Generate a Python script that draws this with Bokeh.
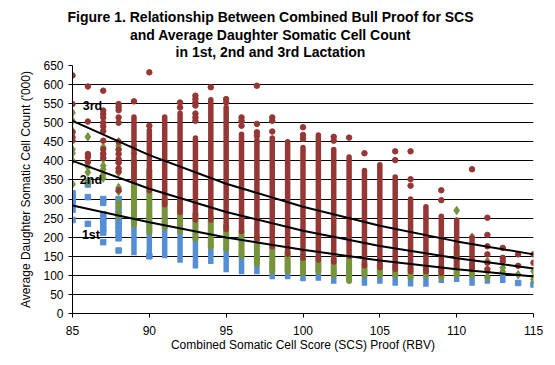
from bokeh.plotting import figure
from bokeh.models import Range1d, FixedTicker, Label
from bokeh.embed import file_html
from bokeh.resources import INLINE

# ---------------- data ----------------
title_lines = ["Figure 1. Relationship Between Combined Bull Proof for SCS",
               "and Average Daughter Somatic Cell Count",
               "in 1st, 2nd and 3rd Lactation"]
x_ticks = [85, 90, 95, 100, 105, 110, 115]
y_ticks = list(range(0, 651, 50))

# 1st lactation (blue squares): dense columns (x, low, high) + scattered points
blue_band_x = [89, 90, 91, 92, 93, 94, 95, 96, 97, 98, 99, 100, 101, 102, 103, 104,
               105, 106, 107, 108, 109, 110, 111, 112, 113]
blue_band_lo = [160, 158, 152, 140, 125, 137, 115, 110, 110, 97, 97, 92, 93, 85, 93, 80,
                85, 80, 78, 77, 87, 90, 80, 85, 87]
blue_band_hi = [265, 255, 250, 245, 195, 178, 165, 150, 145, 125, 130, 122, 125, 110, 125, 110,
                110, 100, 95, 108, 120, 115, 100, 92, 95]
blue_pts_x = [85, 85, 85, 85, 85, 85, 86, 86, 86, 86,
              87, 87, 87, 87, 87, 87, 87, 87, 87,
              88, 88, 88, 88, 88, 88, 88, 88, 88, 88, 88,
              90, 114, 115]
blue_pts_y = [315, 305, 297, 290, 272, 245, 345, 338, 305, 235,
              300, 290, 260, 250, 240, 230, 220, 212, 187,
              300, 285, 270, 262, 250, 240, 230, 220, 210, 197, 165,
              150, 80, 76]

# 2nd lactation (green diamonds)
green_band_x = [89, 90, 91, 92, 93, 94, 95, 96, 97, 98, 99, 100, 101, 102, 103, 104,
                105, 106, 107, 108, 109, 110, 111]
green_band_lo = [232, 212, 225, 215, 195, 175, 170, 150, 130, 110, 110, 105, 110, 100, 85, 100,
                 100, 100, 95, 100, 95, 100, 100]
green_band_hi = [400, 375, 300, 300, 260, 250, 230, 215, 200, 175, 160, 150, 145, 140, 150, 130,
                 130, 125, 120, 120, 120, 175, 130]
green_pts_x = [85, 85, 85, 85, 85, 85, 85, 86, 86, 86, 86, 86,
               87, 87, 87, 87, 87, 87, 87,
               88, 88, 88, 88, 88, 88, 88, 88, 88, 88, 88,
               89, 89, 108, 110, 111, 112, 112, 112, 113, 113, 114, 115, 115]
green_pts_y = [526, 505, 478, 430, 420, 401, 339, 463, 395, 385, 370, 345,
               436, 420, 405, 387, 378, 365, 355,
               450, 440, 430, 395, 370, 330, 320, 290, 280, 265, 255,
               440, 420, 250, 270, 200, 137, 110, 95, 120, 110, 102, 111, 89]

# 3rd lactation (dark red circles)
red_band_x = [89, 90, 91, 92, 93, 94, 95, 96, 97, 98, 99, 100, 101, 102, 103, 104,
              105, 106, 107, 108, 109, 110, 111]
red_band_lo = [345, 322, 285, 265, 245, 245, 220, 215, 195, 175, 155, 145, 140, 135, 150, 125,
               120, 115, 110, 110, 105, 122, 115]
red_band_hi = [515, 480, 515, 525, 460, 560, 540, 470, 455, 460, 450, 435, 468, 430, 410, 375,
               390, 358, 300, 280, 255, 245, 200]
red_pts_x = [85, 85, 85, 85, 85, 86, 86, 86, 86, 86,
             87, 87, 87, 87, 87, 87, 87, 87, 87, 87, 87,
             88, 88, 88, 88, 88, 88, 88, 88, 88, 88, 88, 88, 88,
             89, 90, 90, 92, 92, 93, 93, 93, 93, 93, 93, 93, 94, 95, 95,
             96, 96, 96, 97, 97, 97, 97, 98, 98, 98, 100, 100, 100, 102, 102, 103, 104,
             106, 106, 107, 107, 107, 109, 109, 111,
             112, 112, 112, 112, 112, 112, 113, 113, 113, 114, 114, 115, 115]
red_pts_y = [624, 549, 475, 462, 453, 595, 503, 418, 410, 398,
             584, 532, 523, 514, 500, 490, 478, 453, 430, 418, 408,
             549, 541, 533, 514, 500, 450, 430, 418, 405, 395, 380, 372, 323,
             556, 632, 492, 553, 540, 571, 562, 553, 545, 524, 514, 505, 593, 562, 553,
             514, 505, 492, 597, 497, 475, 466, 514, 505, 477, 488, 468, 458, 463, 453, 461, 420,
             425, 402, 425, 352, 335, 323, 297, 378,
             251, 206, 176, 155, 133, 116, 172, 146, 137, 155, 125, 155, 133]

# exponential trend lines, values read at every 5 units
trend_x = [85, 90, 95, 100, 105, 110, 115]
trend_3rd = [505, 415, 340, 280, 230, 189, 155]
trend_2nd = [400, 327, 266, 217, 177, 145, 118]
trend_1st = [283, 239, 199, 167, 139, 116, 97]

series_labels = ["3rd", "2nd", "1st"]
label_x = [86.3, 86.2, 86.2]
label_y = [543, 349, 207]

x_title = "Combined Somatic Cell Score (SCS) Proof (RBV)"
y_title = "Average Daughter Somatic Cell Count ('000)"

# ---------------- styling ----------------
FONT = "Liberation Sans"
BLUE = "#558ED5"
GREEN = "#77933C"
RED = "#953735"

p = figure(width=553, height=360, output_backend="svg", toolbar_location=None,
           x_range=Range1d(85, 115), y_range=Range1d(0, 650),
           title="\n".join(title_lines),
           min_border_left=72, min_border_right=20, min_border_top=65, min_border_bottom=47)
p.title.align = "left"
p.title.offset = -5
p.title.text_align = "center"
p.title.vertical_align = "top"
p.title.standoff = 7
p.title.text_line_height = 1.1
p.title.text_font = FONT
p.title.text_font_style = "bold"
p.title.text_font_size = "14px"
p.title.text_color = "black"
p.outline_line_color = None
p.background_fill_color = "white"
p.border_fill_color = "white"

# blue (1st)
p.segment(x0=blue_band_x, y0=blue_band_lo, x1=blue_band_x, y1=blue_band_hi,
          line_color=BLUE, line_width=5.5, line_cap="square")
p.scatter(blue_pts_x, blue_pts_y, marker="square", size=5.5, fill_color=BLUE, line_color=BLUE)
# green (2nd)
p.segment(x0=green_band_x, y0=green_band_lo, x1=green_band_x, y1=green_band_hi,
          line_color=GREEN, line_width=6, line_cap="round")
p.scatter(green_pts_x, green_pts_y, marker="diamond", size=8.5, fill_color=GREEN, line_color=GREEN)
# red (3rd)
p.segment(x0=red_band_x, y0=red_band_lo, x1=red_band_x, y1=red_band_hi,
          line_color=RED, line_width=5.5, line_cap="round")
p.scatter(red_pts_x, red_pts_y, marker="circle", size=5.5, fill_color=RED, line_color=RED)

# trend lines
for t in (trend_3rd, trend_2nd, trend_1st):
    p.line(trend_x, t, line_color="black", line_width=2)

for s, lx, ly in zip(series_labels, label_x, label_y):
    p.add_layout(Label(x=lx, y=ly, text=s, text_font=FONT, text_font_style="bold",
                       text_font_size="12.5px", text_color="black",
                       text_align="center", text_baseline="middle"))

# axes
p.xgrid.grid_line_color = None
p.ygrid.grid_line_color = "black"
p.ygrid.grid_line_width = 1
p.xaxis.ticker = FixedTicker(ticks=x_ticks)
p.yaxis.ticker = FixedTicker(ticks=y_ticks)
for ax in (p.xaxis, p.yaxis):
    ax.axis_line_color = "black"
    ax.major_tick_line_color = "black"
    ax.major_tick_out = 4
    ax.major_tick_in = 0
    ax.minor_tick_line_color = None
    ax.major_label_text_font = FONT
    ax.major_label_text_font_size = "12px"
    ax.major_label_text_color = "black"
    ax.axis_label_text_font = FONT
    ax.axis_label_text_font_size = "12px"
    ax.axis_label_text_font_style = "normal"
    ax.axis_label_text_color = "black"
p.xaxis.axis_label = x_title
p.yaxis.axis_label = y_title
p.xaxis.major_label_standoff = 8
p.yaxis.major_label_standoff = 5
p.xaxis.axis_label_standoff = 0
p.yaxis.axis_label_standoff = 7

open("out.html", "w").write(file_html(p, INLINE))
